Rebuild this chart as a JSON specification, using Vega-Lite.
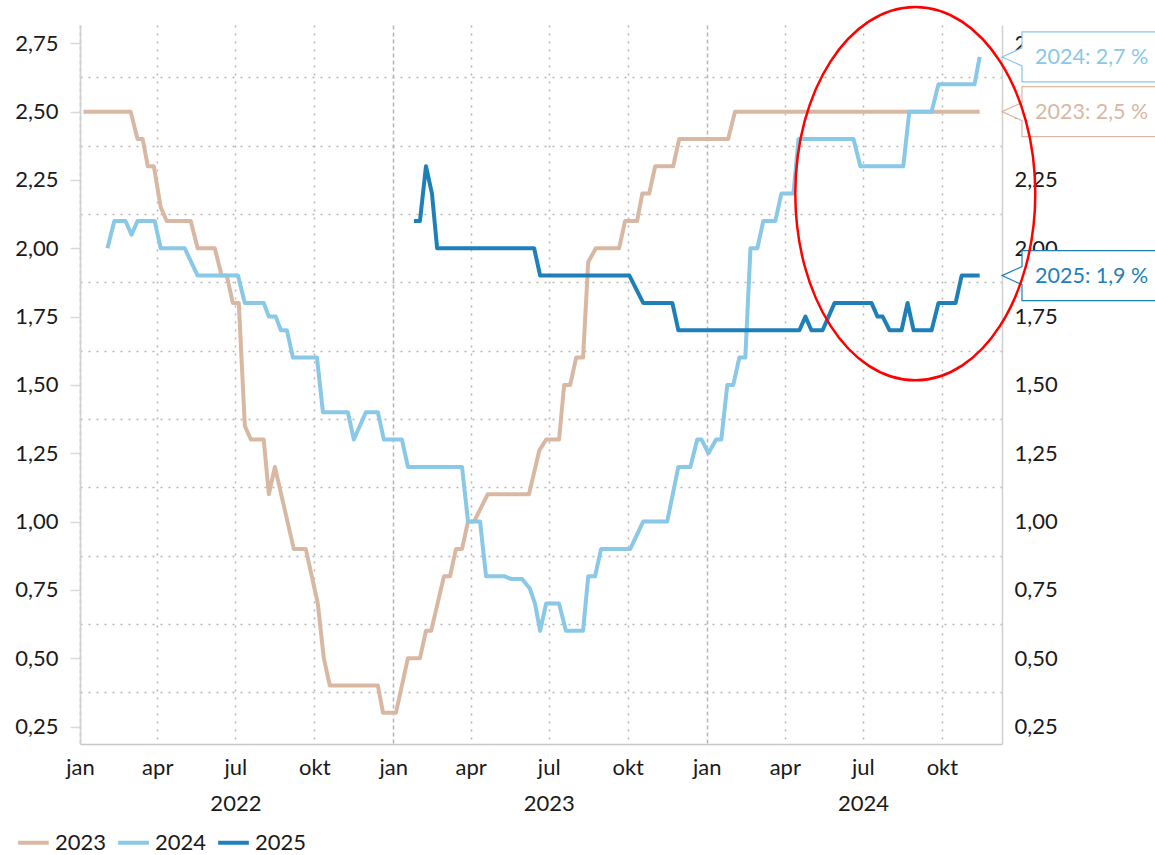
{
  "$schema": "https://vega.github.io/schema/vega-lite/v6.json",
  "width": 922,
  "height": 719,
  "autosize": {"type": "none"},
  "padding": {"left": 80, "top": 25, "right": 153, "bottom": 111},
  "background": "white",
  "config": {
    "view": {"stroke": null},
    "font": "Lato",
    "axis": {"labelFont": "Lato", "labelColor": "#1a1a1a", "title": null},
    "legend": {
      "orient": "none", "legendX": -64, "legendY": 800, "direction": "horizontal",
      "title": null, "labelFontSize": 22, "labelFont": "Lato", "labelColor": "#1a1a1a",
      "symbolType": "stroke", "symbolSize": 940, "symbolStrokeWidth": 4,
      "labelOffset": 4, "columnPadding": 3, "padding": 0
    }
  },
  "datasets": {
    "lines": [
      {"series": "2023", "date": "2022-01-05", "value": 2.50},
      {"series": "2023", "date": "2022-03-01", "value": 2.50},
      {"series": "2023", "date": "2022-03-09", "value": 2.40},
      {"series": "2023", "date": "2022-03-15", "value": 2.40},
      {"series": "2023", "date": "2022-03-21", "value": 2.30},
      {"series": "2023", "date": "2022-03-28", "value": 2.30},
      {"series": "2023", "date": "2022-04-05", "value": 2.15},
      {"series": "2023", "date": "2022-04-12", "value": 2.10},
      {"series": "2023", "date": "2022-05-10", "value": 2.10},
      {"series": "2023", "date": "2022-05-18", "value": 2.00},
      {"series": "2023", "date": "2022-06-07", "value": 2.00},
      {"series": "2023", "date": "2022-06-15", "value": 1.90},
      {"series": "2023", "date": "2022-06-21", "value": 1.90},
      {"series": "2023", "date": "2022-06-28", "value": 1.80},
      {"series": "2023", "date": "2022-07-05", "value": 1.80},
      {"series": "2023", "date": "2022-07-12", "value": 1.35},
      {"series": "2023", "date": "2022-07-19", "value": 1.30},
      {"series": "2023", "date": "2022-08-03", "value": 1.30},
      {"series": "2023", "date": "2022-08-09", "value": 1.10},
      {"series": "2023", "date": "2022-08-16", "value": 1.20},
      {"series": "2023", "date": "2022-09-07", "value": 0.90},
      {"series": "2023", "date": "2022-09-21", "value": 0.90},
      {"series": "2023", "date": "2022-10-05", "value": 0.70},
      {"series": "2023", "date": "2022-10-12", "value": 0.50},
      {"series": "2023", "date": "2022-10-19", "value": 0.40},
      {"series": "2023", "date": "2022-12-14", "value": 0.40},
      {"series": "2023", "date": "2022-12-20", "value": 0.30},
      {"series": "2023", "date": "2023-01-04", "value": 0.30},
      {"series": "2023", "date": "2023-01-18", "value": 0.50},
      {"series": "2023", "date": "2023-02-01", "value": 0.50},
      {"series": "2023", "date": "2023-02-08", "value": 0.60},
      {"series": "2023", "date": "2023-02-14", "value": 0.60},
      {"series": "2023", "date": "2023-03-01", "value": 0.80},
      {"series": "2023", "date": "2023-03-08", "value": 0.80},
      {"series": "2023", "date": "2023-03-15", "value": 0.90},
      {"series": "2023", "date": "2023-03-22", "value": 0.90},
      {"series": "2023", "date": "2023-03-29", "value": 1.00},
      {"series": "2023", "date": "2023-04-05", "value": 1.00},
      {"series": "2023", "date": "2023-04-21", "value": 1.10},
      {"series": "2023", "date": "2023-06-08", "value": 1.10},
      {"series": "2023", "date": "2023-06-20", "value": 1.26},
      {"series": "2023", "date": "2023-06-28", "value": 1.30},
      {"series": "2023", "date": "2023-07-13", "value": 1.30},
      {"series": "2023", "date": "2023-07-19", "value": 1.50},
      {"series": "2023", "date": "2023-07-26", "value": 1.50},
      {"series": "2023", "date": "2023-08-02", "value": 1.60},
      {"series": "2023", "date": "2023-08-10", "value": 1.60},
      {"series": "2023", "date": "2023-08-16", "value": 1.95},
      {"series": "2023", "date": "2023-08-25", "value": 2.00},
      {"series": "2023", "date": "2023-09-21", "value": 2.00},
      {"series": "2023", "date": "2023-09-28", "value": 2.10},
      {"series": "2023", "date": "2023-10-12", "value": 2.10},
      {"series": "2023", "date": "2023-10-18", "value": 2.20},
      {"series": "2023", "date": "2023-10-26", "value": 2.20},
      {"series": "2023", "date": "2023-11-02", "value": 2.30},
      {"series": "2023", "date": "2023-11-23", "value": 2.30},
      {"series": "2023", "date": "2023-11-30", "value": 2.40},
      {"series": "2023", "date": "2024-01-26", "value": 2.40},
      {"series": "2023", "date": "2024-02-03", "value": 2.50},
      {"series": "2023", "date": "2024-11-14", "value": 2.50},

      {"series": "2024", "date": "2022-02-02", "value": 2.00},
      {"series": "2024", "date": "2022-02-10", "value": 2.10},
      {"series": "2024", "date": "2022-02-23", "value": 2.10},
      {"series": "2024", "date": "2022-03-02", "value": 2.05},
      {"series": "2024", "date": "2022-03-09", "value": 2.10},
      {"series": "2024", "date": "2022-03-29", "value": 2.10},
      {"series": "2024", "date": "2022-04-05", "value": 2.00},
      {"series": "2024", "date": "2022-05-03", "value": 2.00},
      {"series": "2024", "date": "2022-05-18", "value": 1.90},
      {"series": "2024", "date": "2022-07-04", "value": 1.90},
      {"series": "2024", "date": "2022-07-12", "value": 1.80},
      {"series": "2024", "date": "2022-08-03", "value": 1.80},
      {"series": "2024", "date": "2022-08-09", "value": 1.75},
      {"series": "2024", "date": "2022-08-17", "value": 1.75},
      {"series": "2024", "date": "2022-08-23", "value": 1.70},
      {"series": "2024", "date": "2022-08-30", "value": 1.70},
      {"series": "2024", "date": "2022-09-06", "value": 1.60},
      {"series": "2024", "date": "2022-10-04", "value": 1.60},
      {"series": "2024", "date": "2022-10-11", "value": 1.40},
      {"series": "2024", "date": "2022-11-09", "value": 1.40},
      {"series": "2024", "date": "2022-11-16", "value": 1.30},
      {"series": "2024", "date": "2022-11-30", "value": 1.40},
      {"series": "2024", "date": "2022-12-14", "value": 1.40},
      {"series": "2024", "date": "2022-12-21", "value": 1.30},
      {"series": "2024", "date": "2023-01-11", "value": 1.30},
      {"series": "2024", "date": "2023-01-18", "value": 1.20},
      {"series": "2024", "date": "2023-03-22", "value": 1.20},
      {"series": "2024", "date": "2023-03-29", "value": 1.00},
      {"series": "2024", "date": "2023-04-12", "value": 1.00},
      {"series": "2024", "date": "2023-04-19", "value": 0.80},
      {"series": "2024", "date": "2023-05-10", "value": 0.80},
      {"series": "2024", "date": "2023-05-18", "value": 0.79},
      {"series": "2024", "date": "2023-05-31", "value": 0.79},
      {"series": "2024", "date": "2023-06-09", "value": 0.755},
      {"series": "2024", "date": "2023-06-15", "value": 0.70},
      {"series": "2024", "date": "2023-06-21", "value": 0.60},
      {"series": "2024", "date": "2023-06-28", "value": 0.70},
      {"series": "2024", "date": "2023-07-13", "value": 0.70},
      {"series": "2024", "date": "2023-07-21", "value": 0.60},
      {"series": "2024", "date": "2023-08-10", "value": 0.60},
      {"series": "2024", "date": "2023-08-16", "value": 0.80},
      {"series": "2024", "date": "2023-08-24", "value": 0.80},
      {"series": "2024", "date": "2023-08-31", "value": 0.90},
      {"series": "2024", "date": "2023-10-04", "value": 0.90},
      {"series": "2024", "date": "2023-10-19", "value": 1.00},
      {"series": "2024", "date": "2023-11-16", "value": 1.00},
      {"series": "2024", "date": "2023-11-29", "value": 1.20},
      {"series": "2024", "date": "2023-12-13", "value": 1.20},
      {"series": "2024", "date": "2023-12-21", "value": 1.30},
      {"series": "2024", "date": "2023-12-26", "value": 1.30},
      {"series": "2024", "date": "2024-01-03", "value": 1.25},
      {"series": "2024", "date": "2024-01-12", "value": 1.30},
      {"series": "2024", "date": "2024-01-18", "value": 1.30},
      {"series": "2024", "date": "2024-01-25", "value": 1.50},
      {"series": "2024", "date": "2024-02-01", "value": 1.50},
      {"series": "2024", "date": "2024-02-08", "value": 1.60},
      {"series": "2024", "date": "2024-02-15", "value": 1.60},
      {"series": "2024", "date": "2024-02-21", "value": 2.00},
      {"series": "2024", "date": "2024-02-29", "value": 2.00},
      {"series": "2024", "date": "2024-03-07", "value": 2.10},
      {"series": "2024", "date": "2024-03-21", "value": 2.10},
      {"series": "2024", "date": "2024-03-28", "value": 2.20},
      {"series": "2024", "date": "2024-04-11", "value": 2.20},
      {"series": "2024", "date": "2024-04-17", "value": 2.40},
      {"series": "2024", "date": "2024-06-20", "value": 2.40},
      {"series": "2024", "date": "2024-06-28", "value": 2.30},
      {"series": "2024", "date": "2024-08-17", "value": 2.30},
      {"series": "2024", "date": "2024-08-24", "value": 2.50},
      {"series": "2024", "date": "2024-09-19", "value": 2.50},
      {"series": "2024", "date": "2024-09-27", "value": 2.60},
      {"series": "2024", "date": "2024-11-08", "value": 2.60},
      {"series": "2024", "date": "2024-11-14", "value": 2.70},

      {"series": "2025", "date": "2023-01-25", "value": 2.10},
      {"series": "2025", "date": "2023-02-01", "value": 2.10},
      {"series": "2025", "date": "2023-02-08", "value": 2.30},
      {"series": "2025", "date": "2023-02-15", "value": 2.20},
      {"series": "2025", "date": "2023-02-21", "value": 2.00},
      {"series": "2025", "date": "2023-06-14", "value": 2.00},
      {"series": "2025", "date": "2023-06-21", "value": 1.90},
      {"series": "2025", "date": "2023-10-03", "value": 1.90},
      {"series": "2025", "date": "2023-10-19", "value": 1.80},
      {"series": "2025", "date": "2023-11-22", "value": 1.80},
      {"series": "2025", "date": "2023-11-29", "value": 1.70},
      {"series": "2025", "date": "2024-04-18", "value": 1.70},
      {"series": "2025", "date": "2024-04-25", "value": 1.75},
      {"series": "2025", "date": "2024-05-02", "value": 1.70},
      {"series": "2025", "date": "2024-05-15", "value": 1.70},
      {"series": "2025", "date": "2024-05-29", "value": 1.80},
      {"series": "2025", "date": "2024-07-11", "value": 1.80},
      {"series": "2025", "date": "2024-07-18", "value": 1.75},
      {"series": "2025", "date": "2024-07-24", "value": 1.75},
      {"series": "2025", "date": "2024-08-01", "value": 1.70},
      {"series": "2025", "date": "2024-08-15", "value": 1.70},
      {"series": "2025", "date": "2024-08-22", "value": 1.80},
      {"series": "2025", "date": "2024-08-29", "value": 1.70},
      {"series": "2025", "date": "2024-09-19", "value": 1.70},
      {"series": "2025", "date": "2024-09-27", "value": 1.80},
      {"series": "2025", "date": "2024-10-17", "value": 1.80},
      {"series": "2025", "date": "2024-10-24", "value": 1.90},
      {"series": "2025", "date": "2024-11-14", "value": 1.90}
    ],
    "labels": [
      {"series": "2024", "date": "2024-12-10", "value": 2.7, "label": "2024: 2,7 %"},
      {"series": "2023", "date": "2024-12-10", "value": 2.5, "label": "2023: 2,5 %"},
      {"series": "2025", "date": "2024-12-10", "value": 1.9, "label": "2025: 1,9 %"}
    ],
    "highlight": [
      {"date": "2024-08-31", "value": 2.2}
    ]
  },
  "layer": [
    {
      "data": {"name": "lines"},
      "mark": {"type": "line", "strokeWidth": 4, "strokeJoin": "round"},
      "encoding": {
        "x": {
          "field": "date", "type": "temporal",
          "scale": {"type": "utc", "domain": [{"year": 2022, "month": 1, "date": 1, "utc": true}, {"year": 2024, "month": 12, "date": 10, "utc": true}]},
          "axis": {
            "values": [
              {"year": 2022, "month": 1, "date": 1, "utc": true},
              {"year": 2022, "month": 4, "date": 1, "utc": true},
              {"year": 2022, "month": 7, "date": 1, "utc": true},
              {"year": 2022, "month": 10, "date": 1, "utc": true},
              {"year": 2023, "month": 1, "date": 1, "utc": true},
              {"year": 2023, "month": 4, "date": 1, "utc": true},
              {"year": 2023, "month": 7, "date": 1, "utc": true},
              {"year": 2023, "month": 10, "date": 1, "utc": true},
              {"year": 2024, "month": 1, "date": 1, "utc": true},
              {"year": 2024, "month": 4, "date": 1, "utc": true},
              {"year": 2024, "month": 7, "date": 1, "utc": true},
              {"year": 2024, "month": 10, "date": 1, "utc": true}
            ],
            "orient": "bottom",
            "grid": true,
            "gridDash": {"condition": {"test": "utcmonth(datum.value) === 0", "value": [4, 3]}, "value": [2, 6]},
            "gridColor": "#b5b5b5", "gridWidth": 1.5,
            "ticks": false, "tickSize": 0, "labelPadding": 13,
            "labelFontSize": 22, "labelLineHeight": 36,
            "labelExpr": "utcmonth(datum.value) === 6 ? ['jul', '' + utcyear(datum.value)] : ['jan','feb','mar','apr','mai','jun','jul','aug','sep','okt','nov','des'][utcmonth(datum.value)]",
            "labelOverlap": false, "labelFlush": false, "labelBound": false,
            "domainColor": "#c8c8c8", "domainWidth": 1.5, "title": null
          }
        },
        "y": {
          "field": "value", "type": "quantitative",
          "scale": {"domain": [0.186, 2.817], "nice": false, "zero": false},
          "axis": {
            "orient": "left",
            "values": [0.25, 0.5, 0.75, 1.0, 1.25, 1.5, 1.75, 2.0, 2.25, 2.5, 2.75],
            "grid": false, "ticks": true, "tickSize": 10, "tickColor": "#d9d9d9", "tickWidth": 1.5,
            "labelPadding": 12, "labelFontSize": 22,
            "labelExpr": "replace(format(datum.value, '.2f'), '.', ',')",
            "domainColor": "#d0d0d0", "domainWidth": 1.5, "title": null
          }
        },
        "color": {
          "field": "series", "type": "nominal",
          "scale": {"domain": ["2023", "2024", "2025"], "range": ["#d9b8a3", "#89c8e6", "#1f80b9"]},
          "legend": {}
        }
      }
    },
    {
      "data": {"name": "labels"},
      "mark": {"type": "point", "shape": "M0,0L20,-9L20,-25L170,-25L170,25L20,25L20,9Z", "size": 4, "filled": true, "fill": "white", "strokeWidth": 1.2, "opacity": 1},
      "encoding": {
        "x": {"field": "date", "type": "temporal", "scale": {"type": "utc", "domain": [{"year": 2022, "month": 1, "date": 1, "utc": true}, {"year": 2024, "month": 12, "date": 10, "utc": true}]}},
        "y": {
          "field": "value", "type": "quantitative",
          "scale": {"domain": [0.186, 2.817], "nice": false, "zero": false},
          "axis": {
            "orient": "right",
            "values": [0.25, 0.5, 0.75, 1.0, 1.25, 1.5, 1.75, 2.0, 2.25, 2.5, 2.75],
            "grid": false, "ticks": false, "tickSize": 0,
            "labelPadding": 12, "labelFontSize": 22,
            "labelExpr": "replace(format(datum.value, '.2f'), '.', ',')",
            "domainColor": "#d0d0d0", "domainWidth": 1.5, "title": null
          }
        },
        "stroke": {"field": "series", "type": "nominal", "scale": {"domain": ["2023", "2024", "2025"], "range": ["#d9b8a3", "#89c8e6", "#1f80b9"]}, "legend": null}
      }
    },
    {
      "data": {"name": "labels"},
      "mark": {"type": "text", "align": "left", "baseline": "middle", "dx": 33, "dy": 1, "fontSize": 21.5, "font": "Lato"},
      "encoding": {
        "x": {"field": "date", "type": "temporal", "scale": {"type": "utc", "domain": [{"year": 2022, "month": 1, "date": 1, "utc": true}, {"year": 2024, "month": 12, "date": 10, "utc": true}]}},
        "y": {"field": "value", "type": "quantitative", "scale": {"domain": [0.186, 2.817], "nice": false, "zero": false}, "axis": null},
        "text": {"field": "label", "type": "nominal"},
        "fill": {"field": "series", "type": "nominal", "scale": {"domain": ["2023", "2024", "2025"], "range": ["#d9b8a3", "#89c8e6", "#1f80b9"]}, "legend": null}
      }
    },
    {
      "data": {"name": "highlight"},
      "mark": {"type": "point", "shape": "M-120,0A120,186.7,0,1,0,120,0A120,186.7,0,1,0,-120,0Z", "size": 4, "filled": false, "stroke": "#ff0000", "strokeWidth": 2.5, "opacity": 1},
      "encoding": {
        "x": {"field": "date", "type": "temporal", "scale": {"type": "utc", "domain": [{"year": 2022, "month": 1, "date": 1, "utc": true}, {"year": 2024, "month": 12, "date": 10, "utc": true}]}},
        "y": {
          "field": "value", "type": "quantitative",
          "scale": {"domain": [0.186, 2.817], "nice": false, "zero": false},
          "axis": {
            "orient": "left",
            "values": [0.375, 0.625, 0.875, 1.125, 1.375, 1.625, 1.875, 2.125, 2.375, 2.625],
            "grid": true, "gridDash": [2, 6], "gridColor": "#b5b5b5", "gridWidth": 1.5,
            "labels": false, "ticks": false, "domain": false, "title": null
          }
        }
      }
    }
  ],
  "resolve": {"axis": {"y": "independent"}}
}
